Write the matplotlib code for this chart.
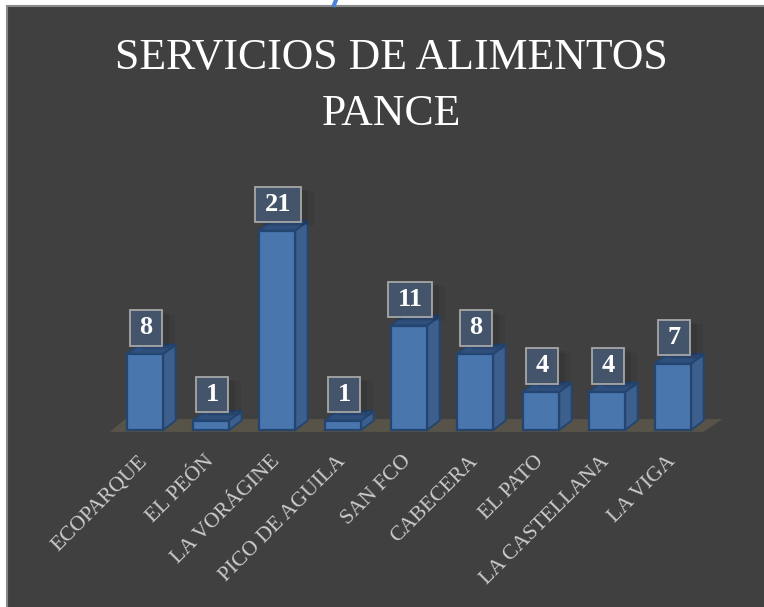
import matplotlib
matplotlib.use('Agg')
import matplotlib.pyplot as plt
from matplotlib.patches import Polygon, Rectangle
from matplotlib.path import Path
import matplotlib.patheffects as pe

categorias = ['ECOPARQUE', 'EL PEÓN', 'LA VORÁGINE', 'PICO DE AGUILA', 'SAN FCO',
              'CABECERA', 'EL PATO', 'LA CASTELLANA', 'LA VIGA']
valores = [8, 1, 21, 1, 11, 8, 4, 4, 7]
titulo = 'SERVICIOS DE ALIMENTOS\nPANCE'

W, H = 764, 607
FONDO = '#404040'
AZUL = '#4a76ae'
LADO = '#3c5f8e'
TOPE = '#2f4f7c'
BORDE = '#24456f'


def caja(x0, y0, ancho_caja, alto_caja, escala):
    # caja de etiqueta: mas aire a los lados que arriba y abajo
    px = 0.37 * escala
    py = 0.23 * escala
    izq, der = x0 - px, x0 + ancho_caja + px
    aba, arr = y0 - py, y0 + alto_caja + py
    return Path([(izq, aba), (der, aba), (der, arr), (izq, arr), (izq, aba)], closed=True)


fig = plt.figure(figsize=(W / 100, H / 100), dpi=100, facecolor='white')

# panel oscuro del grafico, sigue fuera del recorte a la derecha y abajo
fig.add_artist(Rectangle((7 / W, -10 / H), (W + 10) / W, (H + 10 - 6) / H, transform=fig.transFigure,
                         facecolor=FONDO, edgecolor='#8a8a8a', linewidth=1.5, zorder=-2))
# resto de la letra azul cortada arriba
fig.add_artist(plt.Line2D([334 / W, 336 / W], [1 - 5 / H, 1], color='#4a86d8', linewidth=3, zorder=-1))

# un paso de categoria = 66 px, una unidad = 9.5 px
ax = fig.add_axes([112 / W, 1 - 430 / H, 594 / W, 228 / H])
ax.set_xlim(-0.5, 8.5)
ax.set_ylim(0, 24)
ax.axis('off')

prof_x = 0.19
prof_y = 1.0
ancho = 0.55

# piso
ax.add_patch(Polygon([(-0.53, -0.2), (8.46, -0.2), (8.75, 1.15), (-0.3, 1.15)],
                     closed=True, facecolor='#575348', edgecolor='none', clip_on=False, zorder=1))

for i, v in enumerate(valores):
    x0 = i - ancho / 2
    x1 = i + ancho / 2
    ax.bar(i, v, width=ancho, color=AZUL, edgecolor=BORDE, linewidth=1.6, zorder=3, clip_on=False)
    ax.add_patch(Polygon([(x1, 0), (x1 + prof_x, prof_y), (x1 + prof_x, v + prof_y), (x1, v)], closed=True,
                         facecolor=LADO, edgecolor=BORDE, linewidth=1.4, zorder=2, clip_on=False))
    ax.add_patch(Polygon([(x0, v), (x1, v), (x1 + prof_x, v + prof_y), (x0 + prof_x, v + prof_y)], closed=True,
                         facecolor=TOPE, edgecolor=BORDE, linewidth=1.4, zorder=2, clip_on=False))
    etiqueta = ax.annotate(str(v), (i, v), xytext=(1, 14.5), textcoords='offset pixels', ha='center', va='bottom',
                           color='white', fontsize=19, fontweight='bold', family='Liberation Serif', zorder=5,
                           annotation_clip=False,
                           bbox=dict(boxstyle=caja, facecolor='#44546a', edgecolor='#a6a6a6', linewidth=1.3))
    # sombra suave de la caja
    etiqueta.get_bbox_patch().set_path_effects([
        pe.SimplePatchShadow(offset=(9, -3), shadow_rgbFace='black', alpha=0.05),
        pe.SimplePatchShadow(offset=(5, -2), shadow_rgbFace='black', alpha=0.08),
        pe.Normal(),
    ])
    ax.annotate(categorias[i], (i, 0), xytext=(-7, -22), textcoords='offset pixels', ha='right', va='top',
                rotation=45, rotation_mode='anchor', color='#cccccc', fontsize=15.5,
                family='Liberation Serif', annotation_clip=False)

fig.text(391 / W, 1 - 86 / H, titulo, ha='center', va='center', color='white', fontsize=31.5,
         family='Liberation Serif', linespacing=1.5)

fig.savefig('out.png', dpi=100, facecolor=fig.get_facecolor())
